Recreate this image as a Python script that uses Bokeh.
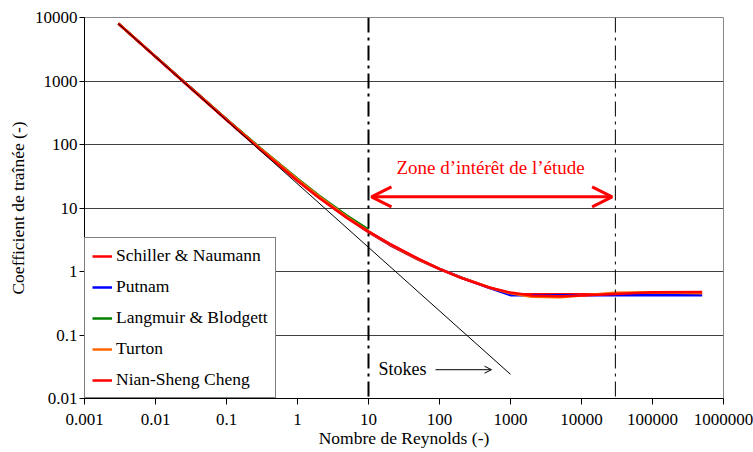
from bokeh.plotting import figure
from bokeh.models import (Range1d, FixedTicker, CustomJSTickFormatter, Span, Arrow,
                          OpenHead, Label)
from bokeh.embed import file_html
from bokeh.resources import INLINE

# ---- data ----
re_main = [0.003, 0.01, 0.03, 0.1, 0.3, 1, 2, 5, 10, 20, 50, 100, 200, 500, 1000,
           2000, 5000, 10000, 30000, 100000, 500000]
cd_schiller = [8022, 2415, 810.8, 247.4, 85.25, 27.6, 14.90, 6.975, 4.151, 2.610, 1.538,
               1.092, 0.8056, 0.5627, 0.4384, 0.44, 0.44, 0.44, 0.44, 0.44, 0.44]
cd_putnam = [8027.7, 2418.6, 812.9, 248.6, 85.98, 28.0, 15.18, 7.139, 4.257, 2.674, 1.566,
             1.102, 0.804, 0.552, 0.424, 0.424, 0.424, 0.424, 0.424, 0.424, 0.424]
re_langmuir = [0.003, 0.01, 0.03, 0.1, 0.3, 1, 2, 5, 10]
cd_langmuir = [8040, 2426, 817.3, 251.1, 87.42, 28.79, 15.74, 7.52, 4.567]
cd_turton = [8030, 2420, 813.8, 248.8, 86.27, 28.15, 15.27, 7.19, 4.285, 2.687, 1.567,
             1.099, 0.803, 0.561, 0.455, 0.399, 0.393, 0.420, 0.462, 0.471, 0.455]
cd_cheng = [8002.8, 2402.8, 802.8, 242.8, 82.74, 26.6, 14.47, 6.965, 4.256, 2.720, 1.592,
            1.103, 0.794, 0.559, 0.466, 0.4205, 0.407, 0.417, 0.444, 0.470, 0.476]
re_stokes = [0.003, 1000]
cd_stokes = [8000, 0.024]

series_names = ["Schiller & Naumann", "Putnam", "Langmuir & Blodgett", "Turton",
                "Nian-Sheng Cheng"]
series_colors = ["#ff0000", "#0000ff", "#008000", "#ff6600", "#ff0000"]

x_ticks = [0.001, 0.01, 0.1, 1, 10, 100, 1000, 10000, 100000, 1000000]
y_ticks = [0.01, 0.1, 1, 10, 100, 1000, 10000]

zone_bounds = [10, 30000]
zone_arrow = [11, 27000, 15]
zone_text = "Zone d\u2019int\u00e9r\u00eat de l\u2019\u00e9tude"
stokes_text = "Stokes"

FONT = "Liberation Serif"

p = figure(width=753, height=452, x_axis_type="log", y_axis_type="log",
           x_range=Range1d(0.001, 1e6), y_range=Range1d(0.01, 1e4),
           output_backend="svg", toolbar_location=None,
           min_border_left=84, min_border_right=30, min_border_top=17, min_border_bottom=54)

p.outline_line_color = "#888888"
p.background_fill_color = "white"
p.border_fill_color = "white"

fmt_code = "if (tick >= 1) { return tick.toFixed(0); } return String(parseFloat(tick.toPrecision(1)));"

xa = p.xaxis[0]
xa.ticker = FixedTicker(ticks=x_ticks)
xa.formatter = CustomJSTickFormatter(code=fmt_code)
xa.axis_label = "Nombre de Reynolds (-)"
xa.axis_label_text_font = FONT
xa.axis_label_text_font_size = "17.5px"
xa.axis_label_text_font_style = "normal"
xa.axis_label_text_color = "black"
xa.axis_label_standoff = 0
xa.major_label_text_font = FONT
xa.major_label_text_font_size = "17px"
xa.major_label_text_color = "black"
xa.major_label_standoff = 9
xa.major_tick_out = 6
xa.major_tick_in = 0
xa.minor_tick_line_color = None
xa.axis_line_color = "black"
xa.major_tick_line_color = "black"

ya = p.yaxis[0]
ya.ticker = FixedTicker(ticks=y_ticks)
ya.formatter = CustomJSTickFormatter(code=fmt_code)
ya.axis_label = "Coefficient de tra\u00eenée (-)"
ya.axis_label_text_font = FONT
ya.axis_label_text_font_size = "17.5px"
ya.axis_label_text_font_style = "normal"
ya.axis_label_text_color = "black"
ya.axis_label_standoff = 4
ya.major_label_text_font = FONT
ya.major_label_text_font_size = "17px"
ya.major_label_text_color = "black"
ya.major_label_standoff = 2
ya.major_tick_out = 5
ya.major_tick_in = 0
ya.minor_tick_line_color = None
ya.axis_line_color = "black"
ya.major_tick_line_color = "black"

p.xgrid.visible = False
p.ygrid.ticker = FixedTicker(ticks=y_ticks)
p.ygrid.grid_line_color = "#404040"
p.ygrid.grid_line_width = 1

all_cd = [cd_schiller, cd_putnam, cd_langmuir, cd_turton, cd_cheng]
all_re = [re_main, re_main, re_langmuir, re_main, re_main]
for name, col, xs, ys in zip(series_names, series_colors, all_re, all_cd):
    p.line(xs, ys, line_color=col, line_width=2.5, legend_label=name)

p.line(re_stokes, cd_stokes, line_color="black", line_width=1)

for i, loc in enumerate(zone_bounds):
    p.add_layout(Span(location=loc, dimension="height", line_color="black",
                      line_width=2 if i == 0 else 1, line_dash="15 5 3 5"))

p.add_layout(Arrow(start=OpenHead(size=20, line_color="red", line_width=3),
                   end=OpenHead(size=20, line_color="red", line_width=3),
                   x_start=zone_arrow[0], y_start=zone_arrow[2],
                   x_end=zone_arrow[1], y_end=zone_arrow[2],
                   line_color="red", line_width=3))
p.add_layout(Label(x=524, y=43.5, text=zone_text, text_font=FONT, text_font_size="19px",
                   text_color="red", text_align="center", text_baseline="middle"))

p.add_layout(Label(x=13.8, y=0.0293, text=stokes_text, text_font=FONT, text_font_size="18px",
                   text_color="black", text_align="left", text_baseline="middle"))
p.add_layout(Arrow(end=OpenHead(size=7, line_color="black", line_width=1),
                   x_start=88, y_start=0.0284, x_end=540, y_end=0.0284,
                   line_color="black", line_width=1))

lg = p.legend[0]
lg.location = "bottom_left"
lg.margin = 0
lg.padding = 7
lg.spacing = 10
lg.label_height = 20
lg.glyph_height = 20
lg.glyph_width = 20
lg.label_standoff = 4
lg.label_text_font = FONT
lg.label_text_font_size = "17.5px"
lg.label_text_color = "black"
lg.border_line_color = "black"
lg.border_line_width = 1
lg.background_fill_color = "white"
lg.background_fill_alpha = 1

open("out.html", "w").write(file_html(p, INLINE))
